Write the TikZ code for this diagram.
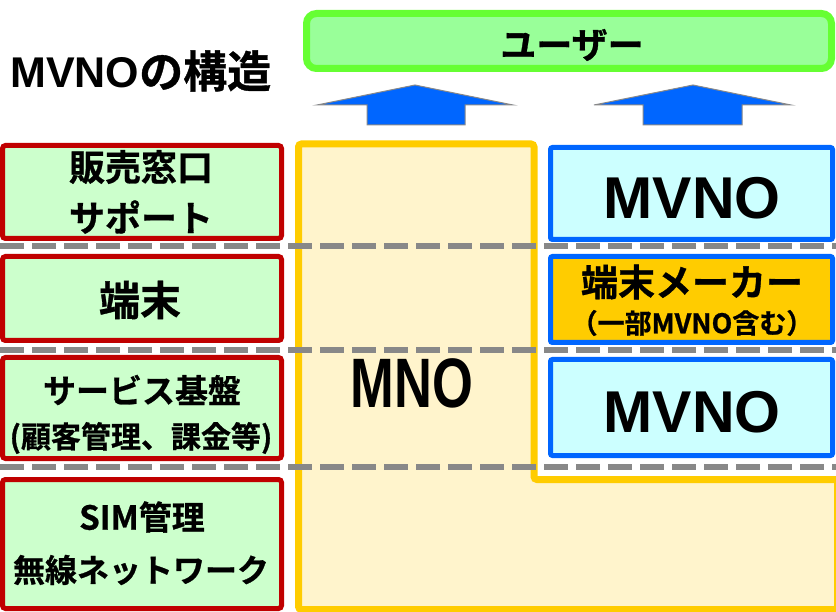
\documentclass[tikz,border=0pt]{standalone}
\usepackage{fontspec}
\setmainfont{Liberation Sans}
\newfontfamily\jp{Noto Sans CJK JP}[BoldFont={Noto Sans CJK JP Bold}, BoldFeatures={FakeBold=0.8}]
\newcommand\jpb{\jp\bfseries}
\newcommand\fs[1]{\fontsize{#1}{#1}\selectfont}
\definecolor{usrline}{HTML}{66FF33}
\definecolor{usrfill}{HTML}{99FF99}
\definecolor{redline}{HTML}{C00000}
\definecolor{lgreen}{HTML}{CCFFCC}
\definecolor{yelline}{HTML}{FFCC00}
\definecolor{yelfill}{HTML}{FFF4CC}
\definecolor{blueline}{HTML}{0066FF}
\definecolor{cyanfill}{HTML}{CCFFFF}
\definecolor{orangefill}{HTML}{FFCC00}
\definecolor{sepgray}{HTML}{888888}
\begin{document}
\begin{tikzpicture}[x=1pt,y=-1pt,
  layerbox/.style={draw=redline, line width=5pt, fill=lgreen, rounded corners=3pt, inner sep=0pt, minimum width=279pt},
  mvnobox/.style={draw=blueline, line width=5pt, fill=cyanfill, rounded corners=2pt, inner sep=0pt, minimum width=282pt},
  sepline/.style={draw=sepgray, line width=6pt, dash pattern=on 24pt off 8pt},
  uparrow/.style={fill=blueline, draw=sepgray, line width=1pt},
  txt/.style={inner sep=0pt, font=\jpb},
  bigl/.style={inner sep=0pt, font=\bfseries\fs{59}}
]
\useasboundingbox (0,0) rectangle (836,612);
% title
\node[inner sep=0pt, anchor=west] (title) at (10,71) {{\bfseries\fs{43}MVNO}{\jpb\fs{44}の構造}};
% user box
\node[draw=usrline, fill=usrfill, line width=7pt, rounded corners=10pt, minimum width=525pt, minimum height=55pt, inner sep=0pt] (user) at (569,41) {};
\node[txt, font=\jpb\fs{36}] (usert) at (572,45) {ユーザー};
% arrows
\draw[uparrow] (367,125) -- (367,105) -- (317,105) -- (415,85) -- (513,105) -- (465,105) -- (465,125) -- cycle;
\draw[uparrow] (643,125) -- (643,105) -- (594,105) -- (693,85) -- (791,105) -- (742,105) -- (742,125) -- cycle;
% MNO region
\draw[draw=yelline, fill=yelfill, line width=7pt, rounded corners=3pt]
  (298.5,144) -- (534,144) -- (534,479.5) -- (837.5,479.5) -- (837.5,609.5) -- (298.5,609.5) -- cycle;
\node[inner sep=0pt] (mno) at (412,383) {\bfseries\fs{70}\scalebox{0.75}[1]{MNO}};
% separators
\draw[sepline] (0,246.5) -- (836,246.5);
\draw[sepline] (0,350.5) -- (836,350.5);
\draw[sepline] (0,467) -- (836,467);
% left boxes
\node[layerbox, minimum height=93pt] (l1) at (142,192) {};
\node[layerbox, minimum height=84pt] (l2) at (142,298.5) {};
\node[layerbox, minimum height=101pt] (l3) at (142,408) {};
\node[layerbox, minimum height=129pt] (l4) at (142,544) {};
\node[txt, font=\jpb\fs{36}] (l1a) at (141,167) {販売窓口};
\node[txt, font=\jpb\fs{36}] (l1b) at (141,217) {サポート};
\node[txt, font=\jpb\fs{41}] (l2a) at (140,300) {端末};
\node[txt, font=\jpb\fs{33}] (l3a) at (142,390) {サービス基盤};
\node[txt, font=\jpb\fs{30}] (l3b) at (141,438) {(顧客管理、課金等)};
\node[txt, font=\jpb\fs{33}] (l4a) at (142,517) {SIM管理};
\node[txt, font=\jpb\fs{32}] (l4b) at (141,570) {無線ネットワーク};
% right boxes
\node[mvnobox, minimum height=92pt] (r1) at (691.5,193.5) {};
\node[mvnobox, fill=orangefill, minimum height=86pt] (r2) at (691.5,299.5) {};
\node[mvnobox, minimum height=96pt] (r3) at (691.5,407.5) {};
\node[bigl] (r1t) at (692,198) {MVNO};
\node[txt, font=\jpb\fs{37}] (r2a) at (692,282) {端末メーカー};
\node[txt, font=\jpb\fs{27}] (r2b) at (692,323) {（一部MVNO含む）};
\node[bigl] (r3t) at (692,412) {MVNO};
\end{tikzpicture}
\end{document}
